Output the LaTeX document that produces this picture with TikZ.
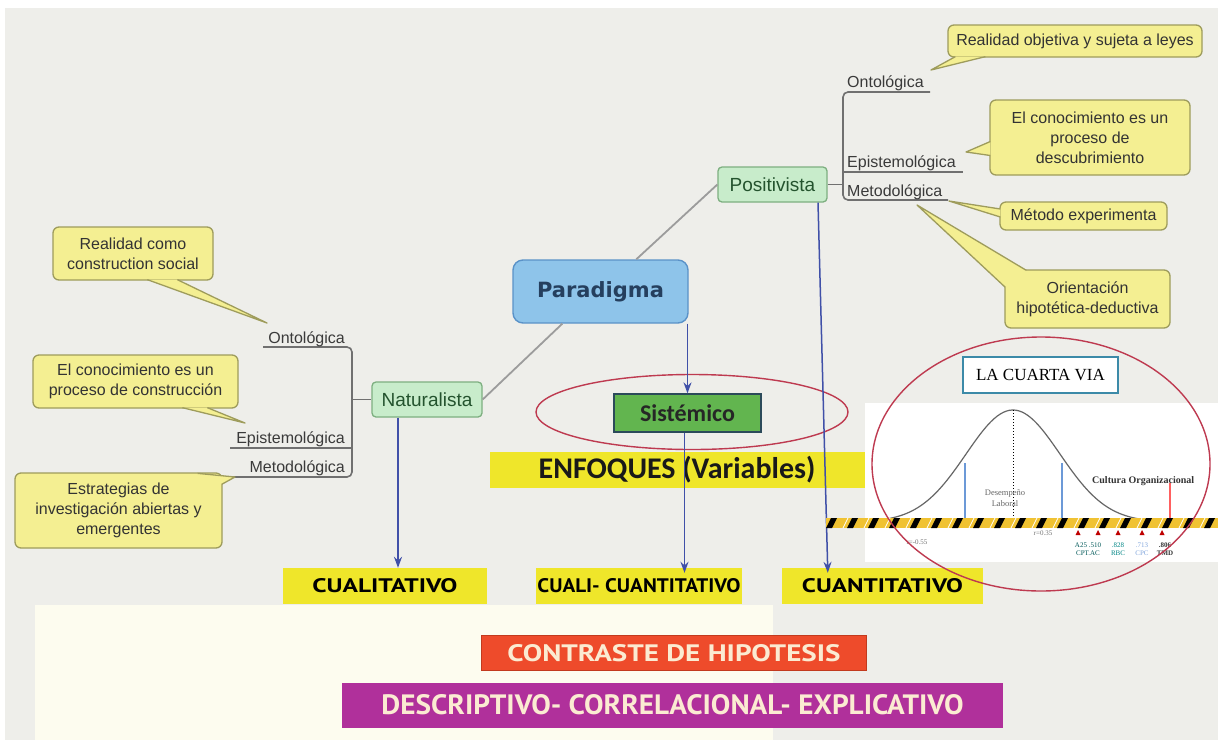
\documentclass[tikz,border=0pt]{standalone}
\usepackage{fontspec}
\usepackage{graphicx}
\setmainfont{Liberation Sans}
\newfontfamily\calfont{Carlito}
\newfontfamily\verdfont{DejaVu Sans}
\newfontfamily\timesfont{Liberation Serif}
\newfontfamily\ptfont{PT Sans}
\usetikzlibrary{arrows.meta,calc,shapes.geometric}

\definecolor{pagegray}{HTML}{EEEEEA}
\definecolor{creampanel}{HTML}{FDFCEF}
\definecolor{calloutfill}{HTML}{F4EF92}
\definecolor{calloutline}{HTML}{9E9C5C}
\definecolor{calltext}{HTML}{333333}
\definecolor{topicfill}{HTML}{C8ECCB}
\definecolor{topicline}{HTML}{7DAF80}
\definecolor{topictext}{HTML}{24532E}
\definecolor{parfill}{HTML}{8EC4EA}
\definecolor{parline}{HTML}{5A92C8}
\definecolor{partext}{HTML}{253F5E}
\definecolor{branchline}{HTML}{707070}
\definecolor{branchtext}{HTML}{3A3A3A}
\definecolor{linkgray}{HTML}{9C9C9C}
\definecolor{flowblue}{HTML}{4050A8}
\definecolor{tagyellow}{HTML}{EFE62A}
\definecolor{sisfill}{HTML}{62B54F}
\definecolor{sisline}{HTML}{2B4A5A}
\definecolor{ellred}{HTML}{BE3A50}
\definecolor{hazardyellow}{HTML}{F0C232}
\definecolor{contrastred}{HTML}{EE4B2B}
\definecolor{contrastline}{HTML}{C23A1E}
\definecolor{descmagenta}{HTML}{B0309B}
\definecolor{lighttext}{HTML}{FBEBD2}
\definecolor{viateal}{HTML}{3C8AA8}

\newcommand\calloutptr[3]{%
  \fill[calloutfill] (#1) -- (#2) -- (#3) -- cycle;
  \draw[calloutline, line width=1.3pt, line join=round] (#1) -- (#2) -- (#3);}

\tikzset{
  callout/.style={draw=calloutline, fill=calloutfill, rounded corners=6pt,
    line width=1.3pt, align=center, text=calltext, inner sep=0pt,
    font={\fontsize{16}{20}\selectfont}},
  topic/.style={draw=topicline, fill=topicfill, rounded corners=4pt,
    line width=1.3pt, text=topictext, inner sep=0pt, minimum height=35pt,
    font={\fontsize{19}{22}\selectfont}},
  branch/.style={text=branchtext, inner sep=0pt,
    font={\fontsize{16}{18}\selectfont}},
  bline/.style={draw=branchline, line width=1.6pt},
  link/.style={draw=linkgray, line width=1.8pt},
  flow/.style={draw=flowblue, line width=1.5pt,
    -{Stealth[length=11pt,width=8pt]}},
  tag/.style={fill=tagyellow, inner sep=0pt},
  chartnote/.style={inner sep=0pt, font={\timesfont\fontsize{7}{8}\selectfont}}
}

\begin{document}
\begin{tikzpicture}[x=1pt,y=-1pt]
\useasboundingbox (0,0) rectangle (1218,740);
\fill[white] (0,0) rectangle (1218,740);
\fill[pagegray] (5,8) rectangle (1218,740);
\fill[creampanel] (35,605) rectangle (773,740);

% ---------- central topics ----------
\node[draw=parline, fill=parfill, rounded corners=10pt, line width=1.4pt,
      minimum width=175pt, minimum height=63pt, inner sep=0pt, text=partext,
      font={\verdfont\bfseries\fontsize{21}{24}\selectfont}]
      (par) at (600.5,291.5) {Paradigma};
\node[topic, minimum width=109pt] (pos) at (772.5,184.5) {Positivista};
\node[topic, minimum width=110pt] (nat) at (427,399.5) {Naturalista};

\draw[link] (nat.east) -- ($(par.south west)+(50,0)$);
\draw[link] ($(par.north west)+(124,0)$) -- (pos.west);

% ---------- Positivista branches ----------
\draw[bline] (pos.east) -- ++(16,0);
\draw[bline, rounded corners=5pt] (930,92) -- (843,92) -- (843,200) -- (948,200);
\draw[bline] (843,172) -- (963,172);
\node[branch, anchor=base west] (pont) at (847,87) {Ontológica};
\node[branch, anchor=base west] (pepi) at (847,167) {Epistemológica};
\node[branch, anchor=base west] (pmet) at (847,196) {Metodológica};

\node[callout, minimum width=254pt, minimum height=32pt] (r1) at (1075,41)
  {Realidad objetiva y sujeta a leyes};
\node[callout, minimum width=200pt, minimum height=75pt] (r2) at (1090,137.5)
  {El conocimiento es un\\proceso de\\descubrimiento};
\node[callout, minimum width=167pt, minimum height=28pt] (r3) at (1083.5,216)
  {Método experimenta};
\node[callout, minimum width=165pt, minimum height=58pt] (r4) at (1087.5,299)
  {Orientación\\hipotética-deductiva};
\coordinate (t1) at (931,70);
\coordinate (t2) at (966,152);
\coordinate (t3) at (949,201);
\coordinate (t4) at (917,205);
\calloutptr{$(r1.south west)+(8,-1)$}{t1}{$(r1.south west)+(38,-1)$}
\calloutptr{$(r2.west)+(1,4)$}{t2}{$(r2.west)+(1,18)$}
\calloutptr{$(r3.west)+(1,-7)$}{t3}{$(r3.west)+(1,1)$}
\calloutptr{$(r4.north west)+(22,1)$}{t4}{$(r4.north west)+(1,18)$}

% ---------- Naturalista branches ----------
\draw[bline, rounded corners=5pt] (263,347) -- (352,347) -- (352,477) -- (232,477);
\draw[bline] (230,448) -- (352,448);
\draw[bline] (352,399.5) -- (nat.west);
\node[branch, anchor=base east] (nont) at (345,343) {Ontológica};
\node[branch, anchor=base east] (nepi) at (345,443) {Epistemológica};
\node[branch, anchor=base east] (nmet) at (345,472) {Metodológica};

\node[callout, minimum width=160pt, minimum height=53pt] (l1) at (133,253.5)
  {Realidad como\\construction social};
\node[callout, minimum width=205pt, minimum height=53pt] (l2) at (135.5,381.5)
  {El conocimiento es un\\proceso de construcción};
\node[callout, minimum width=207pt, minimum height=75pt] (l3) at (118.5,510.5)
  {Estrategias de\\investigación abiertas y\\emergentes};
\coordinate (s1) at (267,323);
\coordinate (s2) at (245,423);
\coordinate (s3) at (235,477);
\calloutptr{$(l1.south west)+(95,-1)$}{s1}{$(l1.south west)+(125,-1)$}
\calloutptr{$(l2.south west)+(150,-1)$}{s2}{$(l2.south west)+(175,-1)$}
\calloutptr{$(l3.north east)+(-25,1)$}{s3}{$(l3.north east)+(-1,12)$}

% ---------- approaches ----------
\node[tag, minimum width=375pt, minimum height=36pt,
      font={\calfont\bfseries\fontsize{30}{32}\selectfont}, text=black!90]
      (enf) at (677,470) {ENFOQUES (Variables)};
\node[draw=ellred, line width=1.4pt, ellipse, minimum width=312pt,
      minimum height=75pt, inner sep=0pt] (ring) at (692,412) {};
\node[draw=sisline, fill=sisfill, line width=1.3pt, minimum width=147pt,
      minimum height=38pt, inner sep=0pt, text=black!85,
      font={\calfont\bfseries\fontsize{24}{26}\selectfont}]
      (sis) at (687.5,413) {Sistémico};

\node[tag, minimum width=204pt, minimum height=36pt] (cual) at (385,586)
  {\resizebox{145pt}{14pt}{\ptfont\bfseries CUALITATIVO}};
\node[tag, minimum width=206pt, minimum height=36pt] (cc) at (639,586)
  {\resizebox{203pt}{14pt}{\ptfont\bfseries CUALI- CUANTITATIVO}};
\node[tag, minimum width=201pt, minimum height=36pt] (cuant) at (882.5,586)
  {\resizebox{161pt}{14pt}{\ptfont\bfseries CUANTITATIVO}};

\coordinate (natfoot) at ($(nat.south)+(-29,0)$);
\coordinate (sisfoot) at ($(sis.south)+(-3,0)$);
\coordinate (posfoot) at ($(pos.south)+(45.5,0)$);
\draw[flow] (sis.north |- par.south) -- (sis.north);
\draw[flow] (natfoot) -- (natfoot |- cual.north);
\draw[flow] (sisfoot) -- ($(sisfoot |- cc.north)+(0,5)$);
\draw[flow] (posfoot) -- ($(cuant.north west)+(46,5)$);

% ---------- la cuarta via chart ----------
\fill[white] (865,403) rectangle (1218,562);
\node[draw=viateal, fill=white, line width=1.4pt, minimum width=155pt,
      minimum height=36pt, inner sep=0pt,
      font={\timesfont\fontsize{17}{19}\selectfont}]
      (via) at (1040.5,375) {LA CUARTA VIA};
\draw[black!60, line width=1.2pt] plot[domain=878:1150, samples=90, smooth]
  (\x, {522 - 112*exp(-((\x-1013)/47)^2/2)});
\draw[black, dotted, line width=1pt] (1013,410) -- (1013,522);
\draw[cyan!50!blue!60, line width=1.2pt] (965,463) -- (965,522);
\draw[cyan!50!blue!60, line width=1.2pt] (1062,463) -- (1062,522);
\draw[red!50!pink, line width=1.2pt] (1170,483) -- (1170,522);
\node[chartnote, align=center, text=black!60, font={\timesfont\fontsize{8.5}{11}\selectfont}]
  (dl) at (1005,498) {Desempeño\\Laboral};
\node[chartnote, anchor=west, text=black!80,
      font={\timesfont\bfseries\fontsize{10}{11}\selectfont}]
  (co) at (1092,481) {Cultura Organizacional};
\begin{scope}
  \clip (826,518) rectangle (1218,528);
  \fill[hazardyellow] (826,518) rectangle (1218,528);
  \foreach \k in {0,...,19} {
    \fill[black] ({826+\k*21},528) -- ({832+\k*21},528)
                 -- ({837+\k*21},518) -- ({831+\k*21},518) -- cycle;
    \draw[white, line width=0.8pt] ({843+\k*21},528) -- ({848+\k*21},518);
  }
\end{scope}
\node[chartnote, text=black!55] (ra) at (917,542) {r=-0.55};
\node[chartnote, text=black!55] (rb) at (1043,533) {r=0.35};
\foreach \tx in {1078,1098,1118,1142,1162} {
  \fill[red!75!black] (\tx-2.5,535) -- (\tx+2.5,535) -- (\tx,530) -- cycle;
}
\node[chartnote, text=teal!70!black] (va) at (1088,545) {A25 .510};
\node[chartnote, text=teal!70!black] (ca) at (1088,553) {CPT.AC};
\node[chartnote, text=teal!50!cyan!70!black] (vb) at (1118,545) {.828};
\node[chartnote, text=teal!50!cyan!70!black] (cb) at (1118,553) {RBC};
\node[chartnote, text=cyan!50!blue!50] (vc) at (1142,545) {.713};
\node[chartnote, text=cyan!50!blue!50] (cpc) at (1142,553) {CPC};
\node[chartnote, text=black!80, font={\timesfont\bfseries\fontsize{7}{8}\selectfont}] (vd) at (1165,545) {.806};
\node[chartnote, text=black!80, font={\timesfont\bfseries\fontsize{7}{8}\selectfont}] (cd) at (1165,553) {TMD};
\draw[ellred, line width=1.4pt] (1041,464) ellipse [x radius=169, y radius=127];

% ---------- bottom bands ----------
\node[fill=contrastred, draw=contrastline, line width=1pt, minimum width=385pt,
      minimum height=35pt, inner sep=0pt, text=lighttext]
      (con) at (674,653) {\resizebox{333pt}{17pt}{\ptfont\bfseries CONTRASTE DE HIPOTESIS}};
\node[fill=descmagenta, minimum width=661pt, minimum height=45pt, inner sep=0pt,
      text=lighttext] (desc) at (672.5,705)
      {\resizebox{582pt}{20pt}{\ptfont\bfseries DESCRIPTIVO- CORRELACIONAL- EXPLICATIVO}};
\end{tikzpicture}
\end{document}
